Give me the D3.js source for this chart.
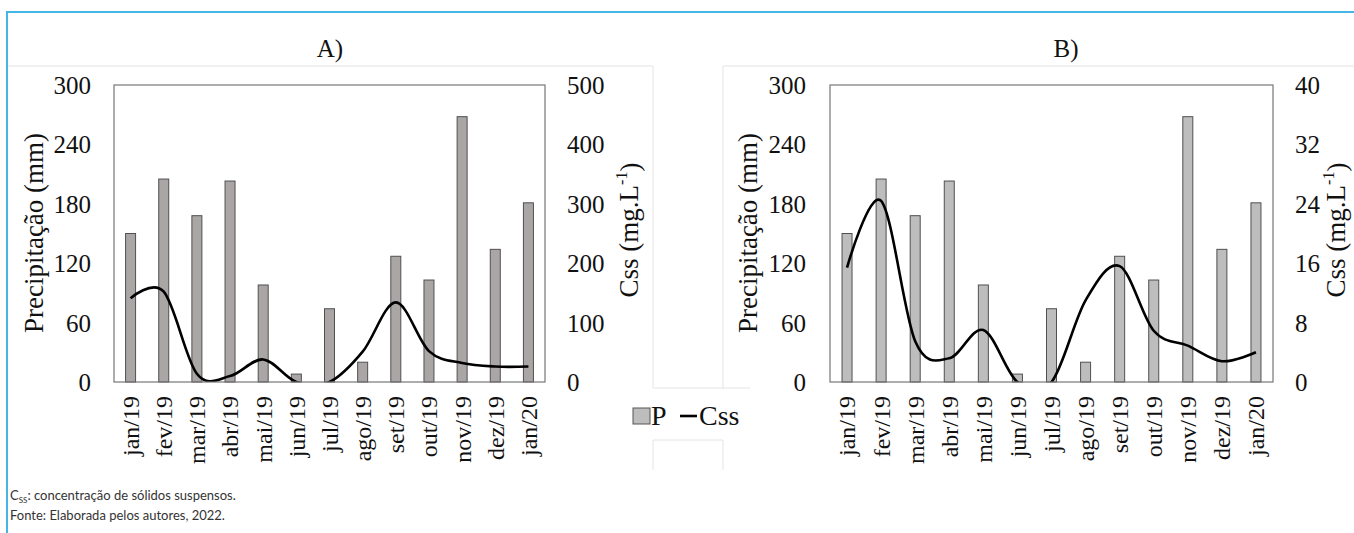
<!DOCTYPE html>
<html><head><meta charset="utf-8">
<script src="https://cdn.jsdelivr.net/npm/d3@7"></script>
<style>
html,body{margin:0;padding:0;background:#fff;}
svg{display:block;}
.sf{font-family:"Liberation Serif","Times New Roman",serif;}
.ss{font-family:Lato,"Open Sans",sans-serif;}
</style></head>
<body>
<svg id="c" width="1354" height="533"></svg>
<script>
const months = ["jan/19","fev/19","mar/19","abr/19","mai/19","jun/19","jul/19","ago/19","set/19","out/19","nov/19","dez/19","jan/20"];
const precip = [150,205,168,203,98,8,74,20,127,103,268,134,181];
const cssA = [141,152,14,10,38,0,0,51,134,52,32,26,26];
const cssB = [15.4,24.4,5.5,3.2,7.0,0,0,11,15.6,6.9,4.9,2.8,4.0];
const pTicks = [0,60,120,180,240,300];
const cssATicks = [0,100,200,300,400,500];
const cssBTicks = [0,8,16,24,32,40];
const titles = ["A)","B)"];

const svg = d3.select("#c");

// outer decoration
svg.append("line").attr("x1",6).attr("x2",1354).attr("y1",12).attr("y2",12).attr("stroke","#45b5e6").attr("stroke-width",2);
svg.append("line").attr("x1",7).attr("x2",7).attr("y1",11).attr("y2",533).attr("stroke","#45b5e6").attr("stroke-width",2);
const faint = "#e4e4e4";
[[8,66,653,66],[723,66,1354,66],[653,66,653,388],[723,66,723,388],[653,388,750,388],[653,440,723,440],[653,440,653,470],[723,440,723,470]].forEach(l=>{
  svg.append("line").attr("x1",l[0]).attr("y1",l[1]).attr("x2",l[2]).attr("y2",l[3]).attr("stroke",faint).attr("stroke-width",1);
});

function panel(cfg){
  const g = svg.append("g");
  const x = d3.scaleBand().domain(months).range([cfg.x0,cfg.x1]);
  const yP = d3.scaleLinear().domain([0,300]).range([382,85]);
  const yC = d3.scaleLinear().domain([0,cfg.cMax]).range([382,85]);
  const bw = 10;
  g.selectAll("rect.bar").data(precip).join("rect")
    .attr("x",(d,i)=>x(months[i])+x.bandwidth()/2-bw/2)
    .attr("y",d=>yP(d)).attr("width",bw).attr("height",d=>yP(0)-yP(d))
    .attr("fill",cfg.barFill).attr("stroke","#505050").attr("stroke-width",1);
  const cid = "clip"+cfg.id;
  svg.append("clipPath").attr("id",cid).append("rect")
    .attr("x",cfg.x0).attr("y",85).attr("width",cfg.x1-cfg.x0).attr("height",297);
  const line = d3.line().x((d,i)=>x(months[i])+x.bandwidth()/2).y(d=>yC(d)).curve(d3.curveCatmullRom.alpha(0));
  g.append("path").datum(cfg.css).attr("d",line).attr("fill","none").attr("stroke","#000")
    .attr("stroke-width",2.6).attr("clip-path",`url(#${cid})`);
  g.append("rect").attr("x",cfg.x0).attr("y",85).attr("width",cfg.x1-cfg.x0).attr("height",297)
    .attr("fill","none").attr("stroke","#777").attr("stroke-width",1.2);
  const la = d3.axisLeft(yP).tickValues(pTicks).tickSize(0).tickPadding(0);
  const gl = g.append("g").attr("transform",`translate(${cfg.lx},0)`).call(la);
  gl.select(".domain").remove();
  gl.attr("font-family",null).attr("font-size",null);
  gl.selectAll("text").attr("class","sf").attr("font-size",25).attr("fill","#111").attr("dy","0.34em");
  const ra = d3.axisRight(yC).tickValues(cfg.cTicks).tickSize(0).tickPadding(0);
  const gr = g.append("g").attr("transform",`translate(${cfg.rx},0)`).call(ra);
  gr.select(".domain").remove();
  gr.attr("font-family",null).attr("font-size",null);
  gr.selectAll("text").attr("class","sf").attr("font-size",25).attr("fill","#111").attr("dy","0.34em");
  const ba = d3.axisBottom(x).tickSize(0).tickPadding(0);
  const gb = g.append("g").attr("transform",`translate(0,396)`).call(ba);
  gb.select(".domain").remove();
  gb.attr("font-family",null).attr("font-size",null);
  gb.selectAll("text").attr("class","sf").attr("font-size",24).attr("fill","#111")
    .attr("transform","rotate(-90)").attr("text-anchor","end").attr("x",0).attr("y",0).attr("dy","0.35em");
  g.append("text").attr("class","sf").attr("x",cfg.tx).attr("y",57).attr("text-anchor","middle")
    .attr("font-size",25).attr("fill","#111").text(cfg.title);
  g.append("text").attr("class","sf").attr("transform",`translate(${cfg.ytx},233) rotate(-90)`).attr("text-anchor","middle")
    .attr("dy","0.35em").attr("font-size",27).attr("fill","#111").text("Precipitação (mm)");
  const rt = g.append("text").attr("class","sf").attr("transform",`translate(${cfg.rtx},230) rotate(-90)`).attr("text-anchor","middle")
    .attr("dy","0.35em").attr("font-size",27).attr("fill","#111");
  rt.append("tspan").text("Css (mg.L");
  rt.append("tspan").attr("font-size",16).attr("dy","-0.7em").text("-1");
  rt.append("tspan").attr("dy","0.45em").text(")");
}

panel({id:"A",x0:114,x1:545,cMax:500,cTicks:cssATicks,css:cssA,barFill:"#aaa6a6",lx:91,rx:567,tx:330,ytx:34,rtx:629,title:titles[0]});
panel({id:"B",x0:830,x1:1273,cMax:40,cTicks:cssBTicks,css:cssB,barFill:"#bdbdbd",lx:806,rx:1295,tx:1066,ytx:748,rtx:1336,title:titles[1]});

// legend
const lg = svg.append("g");
lg.append("rect").attr("x",633).attr("y",408).attr("width",17).attr("height",16).attr("fill","#bdbdbd").attr("stroke","#555").attr("stroke-width",1);
lg.append("text").attr("class","sf").attr("x",651).attr("y",425).attr("font-size",28).attr("fill","#111").text("P");
lg.append("line").attr("x1",680).attr("x2",697).attr("y1",416).attr("y2",416).attr("stroke","#000").attr("stroke-width",2.6);
lg.append("text").attr("class","sf").attr("x",699).attr("y",425).attr("font-size",28).attr("fill","#111").text("Css");

// footnote
const f1 = svg.append("text").attr("class","ss").attr("x",10).attr("y",500).attr("font-size",13).attr("fill","#333");
f1.append("tspan").text("C");
f1.append("tspan").attr("font-size",8).attr("dy","3").text("SS");
f1.append("tspan").attr("dy","-3").text(": concentração de sólidos suspensos.");
svg.append("text").attr("class","ss").attr("x",10).attr("y",520).attr("font-size",13).attr("fill","#333").text("Fonte: Elaborada pelos autores, 2022.");
</script>
</body></html>
